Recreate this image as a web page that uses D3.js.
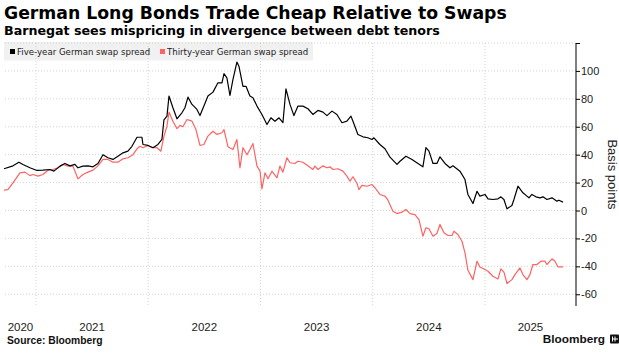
<!DOCTYPE html>
<html>
<head>
<meta charset="utf-8">
<script src="https://cdn.jsdelivr.net/npm/d3@7"></script>
<style>
  body { margin: 0; background: #fff; }
  svg { display: block; font-family: "Liberation Sans", Arial, sans-serif; }
</style>
</head>
<body>
<div id="svgcontainer"></div>
<script>
// --- --- Data --- ---

// Five-year German swap spread, dates as decimal years, values in basis points
var fiveYearDates = [2020.715, 2020.795, 2020.848, 2020.884, 2020.946, 2021.009, 2021.062, 2021.124, 2021.160, 2021.214,
    2021.258, 2021.303, 2021.347, 2021.374, 2021.418, 2021.463, 2021.508, 2021.552, 2021.597, 2021.641,
    2021.686, 2021.730, 2021.775, 2021.819, 2021.855, 2021.900, 2021.944, 2021.953, 2021.998, 2022.042,
    2022.087, 2022.122, 2022.140, 2022.167, 2022.185, 2022.220, 2022.256, 2022.300, 2022.327, 2022.354,
    2022.390, 2022.434, 2022.461, 2022.496, 2022.532, 2022.577, 2022.621, 2022.657, 2022.675, 2022.701,
    2022.728, 2022.755, 2022.790, 2022.808, 2022.844, 2022.871, 2022.906, 2022.933, 2022.969, 2023.013,
    2023.058, 2023.093, 2023.129, 2023.165, 2023.200, 2023.227, 2023.263, 2023.298, 2023.334, 2023.378,
    2023.423, 2023.467, 2023.512, 2023.557, 2023.592, 2023.637, 2023.681, 2023.726, 2023.770, 2023.806,
    2023.824, 2023.868, 2023.913, 2023.957, 2023.993, 2024.011, 2024.064, 2024.109, 2024.154, 2024.216,
    2024.243, 2024.296, 2024.350, 2024.403, 2024.447, 2024.474, 2024.501, 2024.537, 2024.572, 2024.599,
    2024.644, 2024.688, 2024.715, 2024.777, 2024.822, 2024.848, 2024.893, 2024.929, 2024.955, 2025.000,
    2025.027, 2025.071, 2025.116, 2025.142, 2025.169, 2025.196, 2025.240, 2025.258, 2025.294, 2025.338,
    2025.374, 2025.392, 2025.418, 2025.454, 2025.490, 2025.517, 2025.552, 2025.597, 2025.641, 2025.659,
    2025.695];
var fiveYearValues = [29.9, 32, 34.6, 33, 30.6, 28.7, 28.9, 29.4, 28.2, 31.8,
    33.7, 32, 33, 30.6, 31.8, 32, 31.3, 33.7, 40, 37.8,
    36.6, 38.9, 41.3, 42.5, 46, 52.5, 52.5, 47.3, 46.6, 45,
    47.3, 50.9, 65, 67.6, 82, 73.6, 65.7, 70, 73.6, 81.2,
    76, 72.4, 68, 74.8, 82, 84.8, 91.5, 91.5, 98, 95,
    82.4, 94, 106.3, 103.4, 89, 89, 82, 80.8, 74.8, 68.8,
    61.6, 66.4, 64, 66.4, 62.9, 87.2, 76, 68, 74.8, 74.8,
    72.9, 68.8, 71.7, 70.5, 68, 71.2, 68.8, 62.9, 64, 67.6,
    64, 54.5, 52.8, 52.1, 50.9, 52.1, 47.3, 44.2, 38.2, 33,
    35.3, 38.9, 36.6, 33.7, 31.3, 45, 42.5, 33.7, 33.7, 38.5,
    33.7, 30.6, 32, 28.2, 22.2, 11.5, 5, 13.8, 10.3, 11.5,
    8.4, 7.9, 8.4, 9.8, 7.9, 1.2, 3.6, 7.9, 17.4, 12.7,
    10.3, 9.1, 11.5, 9.8, 9.1, 9.8, 7.9, 9.1, 6.7, 7.4,
    6];

// Thirty-year German swap spread
var thirtyYearDates = [2020.715, 2020.750, 2020.795, 2020.857, 2020.902, 2020.946, 2020.973, 2021.018, 2021.062, 2021.107,
    2021.151, 2021.196, 2021.240, 2021.285, 2021.329, 2021.374, 2021.418, 2021.463, 2021.508, 2021.552,
    2021.597, 2021.641, 2021.686, 2021.730, 2021.775, 2021.819, 2021.864, 2021.900, 2021.926, 2021.953,
    2021.998, 2022.042, 2022.078, 2022.113, 2022.140, 2022.167, 2022.185, 2022.220, 2022.256, 2022.283,
    2022.309, 2022.345, 2022.390, 2022.425, 2022.461, 2022.496, 2022.532, 2022.577, 2022.612, 2022.657,
    2022.675, 2022.710, 2022.755, 2022.790, 2022.817, 2022.844, 2022.880, 2022.906, 2022.933, 2022.969,
    2022.996, 2023.013, 2023.040, 2023.067, 2023.102, 2023.147, 2023.173, 2023.200, 2023.236, 2023.263,
    2023.307, 2023.334, 2023.378, 2023.423, 2023.467, 2023.485, 2023.512, 2023.557, 2023.592, 2023.619,
    2023.646, 2023.690, 2023.735, 2023.770, 2023.797, 2023.824, 2023.860, 2023.877, 2023.904, 2023.948,
    2023.993, 2024.020, 2024.064, 2024.109, 2024.136, 2024.180, 2024.216, 2024.260, 2024.296, 2024.332,
    2024.376, 2024.412, 2024.447, 2024.474, 2024.501, 2024.537, 2024.572, 2024.599, 2024.635, 2024.670,
    2024.706, 2024.724, 2024.759, 2024.795, 2024.822, 2024.848, 2024.893, 2024.929, 2024.955, 2025.000,
    2025.027, 2025.071, 2025.116, 2025.142, 2025.169, 2025.196, 2025.240, 2025.267, 2025.312, 2025.338,
    2025.374, 2025.401, 2025.427, 2025.463, 2025.499, 2025.535, 2025.552, 2025.597, 2025.624, 2025.650,
    2025.695];
var thirtyYearValues = [14.6, 15, 19.8, 27, 27.5, 25, 25.8, 24.6, 25.8, 28.9,
    29.4, 30.6, 33, 31.8, 31.8, 22.7, 25.8, 27.5, 28.9, 32,
    36.6, 36.6, 34.6, 34.6, 37, 37.8, 40, 44.2, 46, 45,
    46.6, 45, 45, 42.5, 53.3, 60.4, 70.5, 64, 58.6, 61,
    60, 65.2, 64, 58, 46.6, 47.3, 53.3, 56.8, 54.5, 55.7,
    58, 45.7, 43.7, 50.9, 30.6, 45, 40, 43.7, 48, 31.8,
    28.2, 15.5, 27, 22.7, 28.2, 23.4, 31.8, 27.5, 37.8, 34.2,
    33.7, 35.3, 34.6, 32, 29.4, 31.8, 29.4, 32, 30.6, 31.3,
    29.4, 29.9, 28.2, 24.6, 21, 24.2, 19.4, 15, 18, 17.4,
    18.6, 16.3, 11.5, 10.3, 7.4, -0.5, -2.2, -1.2, 0.7, -2.2,
    -2.9, -6.5, -18.4, -12.4, -13.1, -18.4, -16.5, -10, -16, -17.9,
    -17.9, -14.8, -17.2, -22, -30.3, -42.8, -49.5, -36.3, -40.4, -42.3,
    -43.5, -47.1, -49, -41.8, -44.2, -52.3, -49.5, -45.9, -41.1, -45.9,
    -49.5, -45.9, -38.7, -38.7, -36.3, -36.3, -38.7, -34.6, -36.3, -40.4,
    -40.4];

// Axis ticks
var yearTicks = [2021, 2022, 2023, 2024, 2025];
var yearLabels = [2020, 2021, 2022, 2023, 2024, 2025];
var yTicks = [-60, -40, -20, 0, 20, 40, 60, 80, 100, 120];
var yLabels = [-60, -40, -20, 0, 20, 40, 60, 80, 100];

var seriesNames = ["Five-year German swap spread", "Thirty-year German swap spread"];
var seriesColors = ["#000000", "#ff6262"];

// --- --- Dimensions --- ---
var width = 619;
var height = 362;
var plot = ({top: 43, bottom: 306, left: 5, right: 576});

var x = d3.scaleLinear().domain([2020.724, 2025.811]).range([plot.left, plot.right]);
var y = d3.scaleLinear().domain([-68.4, 120]).range([plot.bottom, plot.top]);

const svg = d3.select("#svgcontainer").append("svg")
    .attr("width", width).attr("height", height).attr("id", "svg");

var wideFont = "'DejaVu Sans', Verdana, sans-serif";

// --- Titles ---
svg.append("text").attr("x", 4).attr("y", 18.5)
    .style("font-family", wideFont).attr("font-weight", "bold")
    .attr("font-size", 17.25).attr("fill", "#000")
    .text("German Long Bonds Trade Cheap Relative to Swaps");
svg.append("text").attr("x", 4).attr("y", 34.5)
    .style("font-family", wideFont).attr("font-weight", "bold")
    .attr("font-size", 12.65).attr("fill", "#000")
    .text("Barnegat sees mispricing in divergence between debt tenors");

// --- Legend background (grid shows through it) ---
svg.append("rect").attr("x", 4).attr("y", 42).attr("width", 309).attr("height", 18.5)
    .attr("fill", "#f1f1f1");

// --- Grid ---
svg.append("g").selectAll("line").data(yTicks).join("line")
    .attr("x1", plot.left).attr("x2", plot.right)
    .attr("y1", d => y(d)).attr("y2", d => y(d))
    .attr("stroke", "#c8c8c8").attr("stroke-width", 0.8).attr("stroke-dasharray", "1,2");
svg.append("g").selectAll("line").data(yearTicks).join("line")
    .attr("x1", d => x(d)).attr("x2", d => x(d))
    .attr("y1", plot.top).attr("y2", plot.bottom)
    .attr("stroke", "#c8c8c8").attr("stroke-width", 0.8).attr("stroke-dasharray", "1,2");

// --- Legend ---
var legendX = [10, 160];
seriesNames.forEach(function(name, i){
    svg.append("rect").attr("x", legendX[i]).attr("y", 49).attr("width", 5).attr("height", 5)
        .attr("fill", seriesColors[i]);
    svg.append("text").attr("x", legendX[i] + 7).attr("y", 55)
        .style("font-family", wideFont)
        .attr("font-size", 8.6).attr("fill", "#222").text(name);
});

// --- Lines ---
function drawLine(dates, values, color){
    var line = d3.line().x((d, i) => x(dates[i])).y(d => y(d));
    svg.append("path").datum(values)
        .attr("d", line).attr("fill", "none")
        .attr("stroke", color).attr("stroke-width", 1.2).attr("stroke-linejoin", "round");
}
drawLine(thirtyYearDates, thirtyYearValues, seriesColors[1]);
drawLine(fiveYearDates, fiveYearValues, seriesColors[0]);

// --- Right axis ---
var yAxis = d3.axisRight(y).tickValues(yTicks).tickSize(4).tickPadding(1)
    .tickFormat(d => yLabels.indexOf(d) >= 0 ? String(d) : "");
var ag = svg.append("g").attr("transform", "translate(" + plot.right + ",0)").call(yAxis);
ag.select(".domain").attr("d", "M0," + plot.top + "V" + plot.bottom).attr("stroke", "#000");
ag.selectAll(".tick line").attr("stroke", "#000");
ag.selectAll("text").attr("font-size", 11).attr("fill", "#222")
    .style("font-family", "'Liberation Sans', Arial, sans-serif");

svg.append("text")
    .attr("transform", "translate(608," + ((plot.top + plot.bottom) / 2) + ") rotate(90)")
    .attr("text-anchor", "middle").attr("font-size", 13).attr("fill", "#222")
    .text("Basis points");

// --- Year labels, centred in the visible part of each year ---
svg.append("g").selectAll("text").data(yearLabels).join("text")
    .attr("x", d => (x(Math.max(d, x.domain()[0])) + x(Math.min(d + 1, x.domain()[1]))) / 2)
    .attr("y", 330.5).attr("text-anchor", "middle")
    .attr("font-size", 11.5).attr("fill", "#222").text(d => d);

// --- Footer ---
svg.append("text").attr("x", 7).attr("y", 344)
    .attr("font-size", 10.3).attr("font-weight", "bold").attr("fill", "#111")
    .text("Source: Bloomberg");
svg.append("text").attr("x", 605).attr("y", 342.5).attr("text-anchor", "end")
    .attr("font-size", 11.8).attr("font-weight", "bold").attr("fill", "#111")
    .text("Bloomberg");
// small logo mark
svg.append("rect").attr("x", 610).attr("y", 334.5).attr("width", 9).attr("height", 9)
    .attr("rx", 1).attr("fill", "#111");
svg.append("path").attr("d", "M612.5,336.5V341.5M615,336.5V341.5M612.5,339H618")
    .attr("stroke", "#fff").attr("stroke-width", 1);
</script>
</body>
</html>
